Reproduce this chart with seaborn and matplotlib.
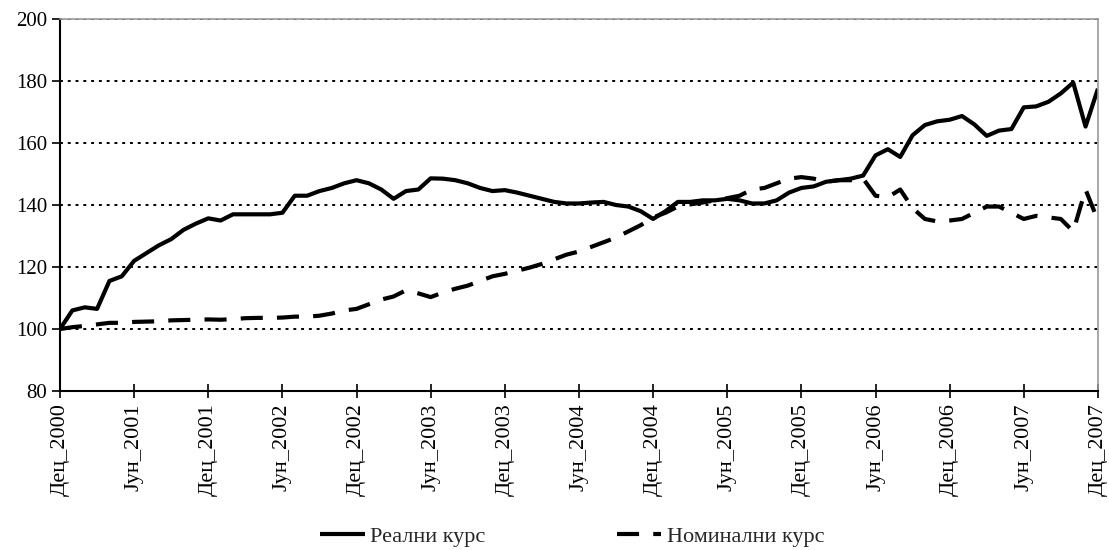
# Реални и номинални курс, дец 2000 - дец 2007 (месечни подаци)
import pandas as pd
import seaborn as sns
import matplotlib.pyplot as plt

# 01. Подаци (очитано са графика)
tick_labels = ["Дец_2000", "Јун_2001", "Дец_2001", "Јун_2002", "Дец_2002",
               "Јун_2003", "Дец_2003", "Јун_2004", "Дец_2004", "Јун_2005",
               "Дец_2005", "Јун_2006", "Дец_2006", "Јун_2007", "Дец_2007"]

real = [100, 106, 107, 106.5, 115.5, 117, 122, 124.5, 127, 129,
        132, 134, 135.7, 135, 137, 137, 137, 137, 137.5, 143,
        143, 144.5, 145.5, 147, 148, 147, 145, 142, 144.5, 145,
        148.6, 148.5, 148, 147, 145.5, 144.5, 144.8, 144, 143, 142,
        141, 140.5, 140.5, 140.8, 141, 140, 139.5, 138, 135.5, 138,
        141, 141, 141.5, 141.5, 142, 141.5, 140.5, 140.5, 141.5, 144,
        145.5, 146, 147.5, 148, 148.5, 149.5, 156, 158, 155.5, 162.5,
        165.8, 167, 167.5, 168.7, 166, 162.3, 164, 164.5, 171.5, 171.8,
        173.3, 176, 179.5, 165.3, 177.5]

nominal = [100, 100.6, 101, 101.5, 102, 102, 102.3, 102.4, 102.5, 102.8,
           102.9, 103, 103.1, 103, 103.2, 103.5, 103.6, 103.6, 103.7, 104,
           104, 104.3, 105, 106, 106.5, 108, 109.5, 110.5, 112.5, 111.5,
           110.3, 111.8, 113, 114, 115.5, 117, 117.8, 118.8, 119.8, 121,
           122.5, 124, 125, 126.5, 128, 129.5, 131.5, 133.5, 136, 137.5,
           139.5, 140.2, 140.8, 141.5, 142.2, 143, 145, 145.5, 147, 148.5,
           149, 148.5, 147.5, 148, 148, 148.5, 143, 142.5, 145, 139,
           135.5, 134.7, 135, 135.5, 137.5, 139.5, 139.5, 137.5, 135.5, 136.5,
           136, 135.5, 131.5, 145, 135]

df = pd.DataFrame({"mesec": range(len(real)), "real": real, "nominal": nominal})

# 02. Стил
sns.set_style("white")
plt.rcParams["font.family"] = ["Liberation Serif", "DejaVu Serif"]

fig = plt.figure(figsize=(11.09, 5.5), dpi=100)
ax = fig.add_axes([0.0541, 0.289, 0.9359, 0.6765])

sns.lineplot(data=df, x="mesec", y="real", ax=ax, color="black", lw=3,
             label="Реални курс", solid_capstyle="butt")
sns.lineplot(data=df, x="mesec", y="nominal", ax=ax, color="black", lw=3,
             label="Номинални курс", dashes=False)
ax.lines[1].set_dashes((5.3, 3.4))
ax.lines[1].set_dash_capstyle("butt")

# 03. Осе
ax.set_xlim(0, len(real) - 1)
ax.set_ylim(80, 200)
ax.set_yticks(range(80, 201, 20))
ax.set_xticks(range(0, len(real), 6))
ax.set_xticklabels(tick_labels, rotation=90)
ax.set_xlabel("")
ax.set_ylabel("")
ax.tick_params(axis="y", direction="out", length=6, width=1.2, labelsize=15,
               pad=3, left=True, colors="black")
ax.tick_params(axis="x", direction="inout", length=10, width=1.2,
               labelsize=16, pad=4, bottom=True, colors="black")

ax.yaxis.grid(True, linestyle=(0, (1.5, 2.5)), color="black", lw=1.4)
ax.set_axisbelow(True)
for s in ["left", "bottom"]:
    ax.spines[s].set_color("black")
    ax.spines[s].set_linewidth(1.5)
for s in ["top", "right"]:
    ax.spines[s].set_color("#999999")
    ax.spines[s].set_linewidth(1.2)

# 04. Легенда
ax.get_legend().remove()
h, l = ax.get_legend_handles_labels()
fig.legend(h, l, loc="center", bbox_to_anchor=(0.516, 0.025), ncol=2,
           frameon=False, fontsize=16, handlelength=2.0, handletextpad=0.25,
           columnspacing=5.9)

plt.savefig("out.png", dpi=100)
